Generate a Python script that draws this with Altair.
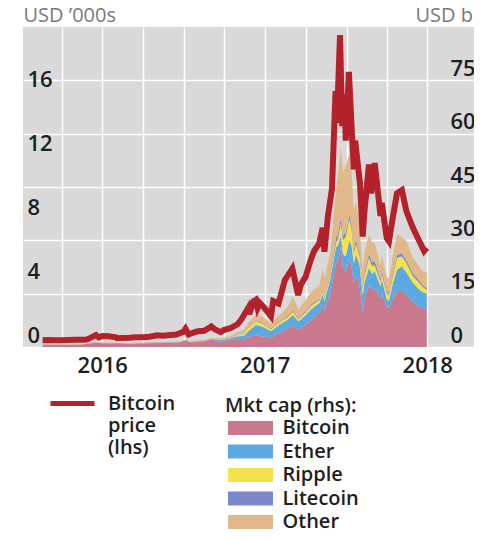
import altair as alt
import pandas as pd

# ---------------- data ----------------
price_dates = [
    "2016-02-18", "2016-03-01", "2016-03-15", "2016-04-01", "2016-04-15", "2016-05-01",
    "2016-05-15", "2016-05-27", "2016-06-05", "2016-06-12", "2016-06-17", "2016-06-23",
    "2016-07-01", "2016-07-15", "2016-08-01", "2016-08-03", "2016-08-15", "2016-09-01",
    "2016-09-15", "2016-10-01", "2016-10-15", "2016-11-01", "2016-11-15", "2016-12-01",
    "2016-12-15", "2016-12-31", "2017-01-04", "2017-01-11", "2017-01-20", "2017-02-01",
    "2017-02-15", "2017-03-03", "2017-03-10", "2017-03-24", "2017-04-01", "2017-04-15",
    "2017-05-01", "2017-05-10", "2017-05-25", "2017-05-27", "2017-06-06", "2017-06-11",
    "2017-06-15", "2017-06-20", "2017-07-01", "2017-07-15", "2017-07-20", "2017-08-01",
    "2017-08-15", "2017-09-01", "2017-09-14", "2017-09-20", "2017-10-01", "2017-10-12",
    "2017-10-20", "2017-10-31", "2017-11-08", "2017-11-12", "2017-11-20", "2017-11-29",
    "2017-12-07", "2017-12-10", "2017-12-17", "2017-12-22", "2017-12-27", "2017-12-30",
    "2018-01-06", "2018-01-12", "2018-01-17", "2018-01-20", "2018-01-31", "2018-02-06",
    "2018-02-10", "2018-02-20", "2018-02-25", "2018-03-05", "2018-03-18", "2018-03-21",
    "2018-04-01", "2018-04-06", "2018-04-14", "2018-04-24", "2018-05-05", "2018-05-15",
    "2018-05-29", "2018-06-10", "2018-06-24", "2018-06-30",
]
price_k = [
    0.42, 0.43, 0.415, 0.415, 0.43, 0.45,
    0.455, 0.47, 0.58, 0.68, 0.75, 0.60,
    0.68, 0.665, 0.61, 0.55, 0.57, 0.575,
    0.61, 0.615, 0.64, 0.73, 0.71, 0.75,
    0.78, 0.96, 1.13, 0.78, 0.89, 0.98,
    1.01, 1.28, 1.12, 0.93, 1.08, 1.18,
    1.42, 1.75, 2.45, 2.05, 2.86, 2.95,
    2.44, 2.75, 2.42, 1.93, 2.87, 2.72,
    4.18, 4.90, 3.25, 3.90, 4.40, 5.43,
    6.00, 6.45, 7.45, 5.95, 8.20, 9.90,
    16.0, 14.0, 19.5, 13.8, 15.8, 12.9,
    17.2, 13.8, 11.1, 12.9, 10.2, 6.9,
    8.5, 11.4, 9.6, 11.5, 8.2, 9.0,
    6.8, 6.6, 8.0, 9.6, 9.8, 8.5,
    7.5, 6.8, 6.0, 6.2,
]

cap_dates = [
    "2016-02-18", "2016-03-15", "2016-04-15", "2016-05-15", "2016-06-17", "2016-07-01",
    "2016-08-01", "2016-09-01", "2016-10-01", "2016-11-01", "2016-12-01", "2016-12-20",
    "2017-01-04", "2017-01-15", "2017-02-01", "2017-02-15", "2017-03-03", "2017-03-24",
    "2017-04-10", "2017-05-01", "2017-05-15", "2017-05-25", "2017-06-11", "2017-06-25",
    "2017-07-15", "2017-07-25", "2017-08-10", "2017-08-20", "2017-09-02", "2017-09-15",
    "2017-10-01", "2017-10-15", "2017-11-01", "2017-11-08", "2017-11-12", "2017-11-25",
    "2017-12-08", "2017-12-12", "2017-12-19", "2017-12-24", "2017-12-30",
    "2018-01-07", "2018-01-12", "2018-01-17", "2018-01-22", "2018-01-30", "2018-02-06",
    "2018-02-10", "2018-02-20", "2018-02-27", "2018-03-05", "2018-03-18", "2018-03-21",
    "2018-04-01", "2018-04-06", "2018-04-15", "2018-04-24", "2018-05-05", "2018-05-15",
    "2018-05-30", "2018-06-10", "2018-06-20", "2018-06-30",
]
cap_bitcoin = [
    6.4, 6.3, 6.6, 7.0, 11.8, 10.5, 9.5, 9.1, 9.8, 11.6, 12.0, 12.9,
    18.2, 13.5, 15.8, 16.3, 20.8, 15.5, 19.0, 23.0, 22.0, 28.0,
    32.0, 30.0, 27.0, 34.0, 44.0, 50.0, 60.0, 50.0, 62.0, 78.0,
    95.0, 118.0, 100.0, 150.0, 236.0, 240.0, 281.0, 220.0, 210.0,
    250, 225, 180, 200, 170, 100, 135, 175, 160, 165,
    135, 150, 115, 110, 135, 155, 160, 145, 125, 115, 110, 106,
]
cap_ether = [
    0.4, 1.0, 0.7, 1.0, 1.3, 1.0, 1.0, 1.0, 1.1, 0.9, 0.7, 0.7,
    0.9, 0.9, 0.95, 1.2, 1.7, 4.5, 4.2, 7.2, 9.0, 16.0,
    30.0, 28.0, 17.0, 20.0, 24.0, 25.0, 30.0, 22.0, 28.0, 30.0,
    29.0, 30.0, 29.0, 40.0, 45.0, 45.0, 32.0, 40.0, 45.0,
    50, 60, 55, 60, 60, 45, 45, 48, 45, 48,
    35, 40, 20, 20, 45, 62, 67, 65, 55, 50, 45, 44,
]
cap_ripple = [
    0.25, 0.3, 0.25, 0.22, 0.22, 0.22, 0.22, 0.22, 0.3, 0.3, 0.25, 0.24,
    0.23, 0.23, 0.23, 0.23, 0.25, 0.4, 1.0, 3.0, 6.5, 10.0,
    9.0, 9.0, 6.0, 7.0, 7.0, 7.5, 9.0, 6.5, 8.0, 10.0,
    8.5, 9.0, 8.0, 10.0, 12.0, 18.0, 35.0, 40.0, 55.0,
    60, 48, 30, 30, 25, 17, 20, 28, 23, 17,
    14, 15, 17, 16, 22, 33, 28, 26, 19, 20, 15, 10,
]
cap_litecoin = [
    0.15, 0.15, 0.17, 0.19, 0.2, 0.2, 0.2, 0.19, 0.18, 0.19, 0.2, 0.2,
    0.22, 0.2, 0.2, 0.2, 0.2, 0.25, 0.45, 0.8, 1.2, 1.3,
    1.6, 2.0, 2.0, 2.3, 2.5, 2.7, 4.3, 2.9, 3.0, 3.5,
    3.0, 3.3, 3.2, 4.5, 12.0, 15.0, 15.0, 13.0, 12.0,
    13, 12, 10, 10, 9, 7, 8, 11, 11, 11,
    8, 9, 6, 6, 8, 8, 9, 8, 7, 6, 5, 5,
]
cap_other = [
    0.8, 0.9, 0.9, 1.0, 1.3, 1.1, 1.1, 1.2, 1.3, 1.4, 1.4, 1.5,
    1.7, 1.6, 1.6, 1.8, 2.2, 4.0, 5.0, 7.5, 9.5, 13.0,
    18.0, 18.0, 14.0, 16.0, 20.0, 26.0, 38.0, 25.0, 32.0, 35.0,
    38.0, 60.0, 55.0, 60.0, 138.0, 160.0, 200.0, 175.0, 190.0,
    170, 150, 110, 110, 75, 50, 60, 55, 55, 50,
    40, 45, 40, 38, 50, 60, 45, 55, 45, 40, 38, 45,
]

coins = ["Bitcoin", "Ether", "Ripple", "Litecoin", "Other"]
coin_colors = ["#c8798d", "#5ba8e2", "#f3e24e", "#7d88c8", "#e0b88a"]
line_label = "Bitcoin price (lhs)"
line_color = "#b3222a"
left_ticks = [0, 4, 8, 12, 16]
right_ticks = [0, 150, 300, 450, 600, 750]
quarter_grid = [
    "2016-04-01", "2016-07-01", "2016-10-01", "2017-01-01", "2017-04-01",
    "2017-07-01", "2017-10-01", "2018-01-01", "2018-04-01", "2018-07-01",
]
x_start, x_end = "2016-01-05", "2018-10-14"

# ---------------- tables ----------------
price_df = pd.DataFrame({"date": price_dates, "price": price_k, "series": line_label})
rows = []
for i, (coin, arr) in enumerate(zip(coins, [cap_bitcoin, cap_ether, cap_ripple, cap_litecoin, cap_other])):
    for d, v in zip(cap_dates, arr):
        rows.append({"date": d, "coin": coin, "cap": v, "ord": i})
cap_df = pd.DataFrame(rows)


def dt(s):
    y, m, d = map(int, s.split("-"))
    return alt.DateTime(year=y, month=m, date=d, utc=True)


FONT = "Open Sans"
DARK = "#1e1e1e"

x_scale = alt.Scale(type="utc", domain=[dt(x_start), dt(x_end)])
x_axis = alt.Axis(
    values=[dt(s) for s in quarter_grid],
    labelExpr="utcmonth(datum.value) == 6 ? utcFormat(datum.value, '%Y') : ''",
    grid=True, gridColor="white", gridWidth=1.5,
    domain=False, ticks=False, tickSize=0,
    labelPadding=8, labelFontSize=22, labelFontWeight=600, labelColor=DARK,
    labelOverlap=False, labelFlush=False, title=None,
)

area = alt.Chart(cap_df).mark_area(interpolate="linear", opacity=1).encode(
    x=alt.X("date:T", scale=x_scale, axis=x_axis),
    y=alt.Y(
        "cap:Q", stack="zero",
        scale=alt.Scale(domain=[0, 900], nice=False, zero=True),
        axis=alt.Axis(
            orient="right", values=right_ticks,
            grid=True, gridColor="white", gridWidth=1.5,
            domain=False, ticks=False, tickSize=0,
            labelAlign="left", labelBaseline="bottom", labelPadding=-24,
            labelFontSize=22, labelFontWeight=600, labelColor=DARK,
            title="USD bn", titleAngle=0, titleAlign="left", titleBaseline="middle",
            titleX=-59, titleY=-12, titleFontSize=20, titleFontWeight="normal",
            titleColor="#7a7a7a",
        ),
    ),
    fill=alt.Fill(
        "coin:N",
        scale=alt.Scale(domain=coins, range=coin_colors),
        legend=alt.Legend(
            title="Mkt cap (rhs):", orient="none", legendX=202, legendY=369,
            direction="vertical", padding=0,
            symbolType="M-3.214,-1H3.214V1H-3.214Z", symbolSize=196,
            symbolOffset=15.5, symbolStrokeWidth=0, symbolOpacity=1,
            labelOffset=22, rowPadding=3.5, titlePadding=2,
            titleFontSize=20, titleFontWeight=600, titleColor=DARK,
            labelFontSize=20, labelFontWeight=600, labelColor=DARK,
            labelLimit=200,
        ),
    ),
    order=alt.Order("ord:Q", sort="ascending"),
)

line = alt.Chart(price_df).mark_line(strokeWidth=6, interpolate="linear").encode(
    x=alt.X("date:T", scale=x_scale, axis=x_axis),
    y=alt.Y(
        "price:Q",
        scale=alt.Scale(domain=[0, 20], nice=False, zero=True),
        axis=alt.Axis(
            orient="left", values=left_ticks, grid=False,
            domain=False, ticks=False, tickSize=0,
            labelAlign="left", labelBaseline="bottom", labelPadding=-4,
            labelFontSize=22, labelFontWeight=600, labelColor=DARK,
            title="USD \u2019000s", titleAngle=0, titleAlign="left", titleBaseline="middle",
            titleX=0, titleY=-12, titleFontSize=20, titleFontWeight="normal",
            titleColor="#7a7a7a",
        ),
    ),
    stroke=alt.Stroke(
        "series:N",
        scale=alt.Scale(domain=[line_label], range=[line_color]),
        legend=alt.Legend(
            title=None, orient="none", legendX=25, legendY=352, padding=0,
            symbolType="stroke", symbolSize=1936, symbolStrokeWidth=5,
            labelExpr="['Bitcoin', 'price', '(lhs)']",
            labelOffset=11, labelFontSize=20, labelFontWeight=600, labelColor=DARK,
            labelLimit=200, labelBaseline="middle",
        ),
    ),
)

chart = (
    alt.layer(area, line)
    .resolve_scale(y="independent")
    .properties(
        width=451, height=320,
        autosize=alt.AutoSizeParams(type="none"),
        padding={"left": 15, "top": 19, "right": 0, "bottom": 184},
    )
    .configure(font=FONT)
    .configure_view(fill="#d9d9d9", strokeWidth=0)
    .configure_axis(labelFont=FONT, titleFont=FONT)
    .configure_legend(labelFont=FONT, titleFont=FONT)
)

chart.save("out.html", embed_options={"renderer": "svg", "actions": False})
